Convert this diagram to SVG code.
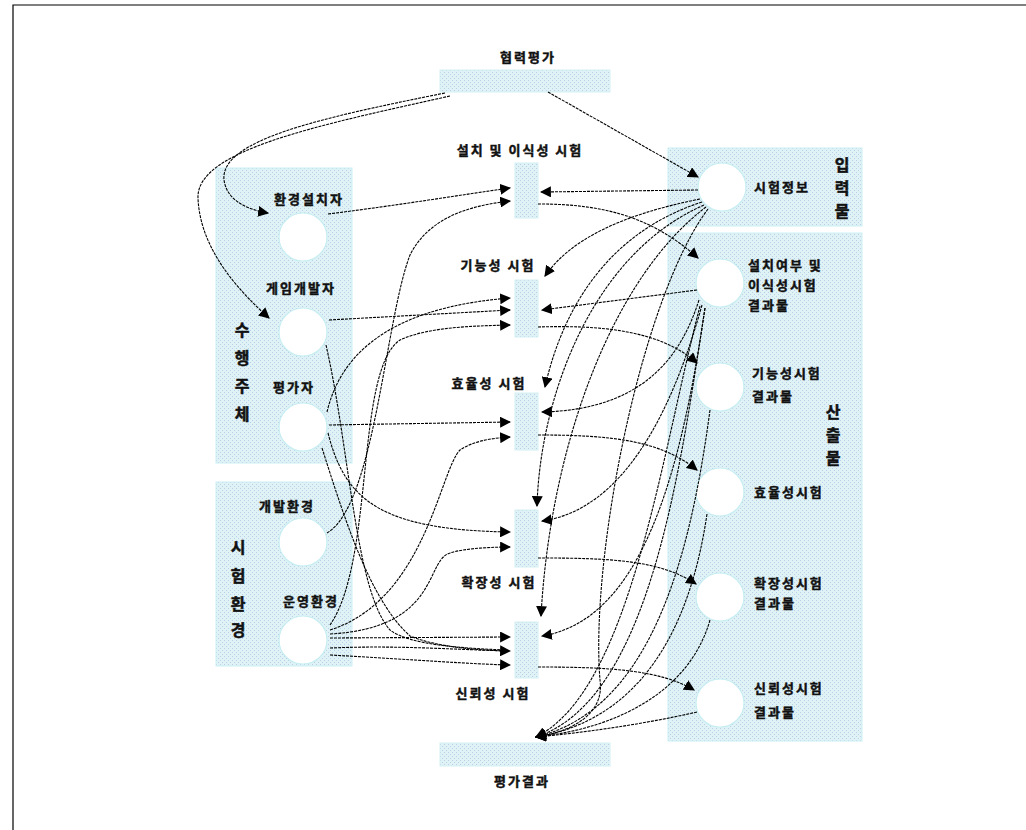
<svg xmlns="http://www.w3.org/2000/svg" width="1026" height="830" viewBox="0 0 1026 830">
<defs>
<pattern id="dots" width="4" height="4" patternUnits="userSpaceOnUse">
<rect width="4" height="4" fill="#dff3f7"/>
<rect x="0" y="0" width="1" height="1" fill="#bccfe6"/>
<rect x="2" y="2" width="1" height="1" fill="#bccfe6"/>
</pattern>
<marker id="ah" viewBox="0 0 10 10" refX="9" refY="5" markerWidth="11" markerHeight="11" orient="auto" markerUnits="userSpaceOnUse">
<path d="M0,0 L10,5 L0,10 z" fill="#000"/>
</marker>
<style>
.panel{fill:url(#dots);stroke:#cdeff3;stroke-width:1}
.bar{fill:url(#dots);stroke:#d4f0f4;stroke-width:1}
.node{fill:#fff;stroke:#c8eef2;stroke-width:1.2}
.t{font-family:"Noto Sans CJK KR","Liberation Sans",sans-serif;font-weight:bold;font-size:13px;letter-spacing:2px;fill:#111;stroke:#111;stroke-width:0.45}
.v{font-family:"Noto Sans CJK KR","Liberation Sans",sans-serif;font-weight:bold;font-size:16px;fill:#111;stroke:#111;stroke-width:0.5;text-anchor:middle}
.m{text-anchor:middle}
.c path{fill:none;stroke:#000;stroke-width:1.1;stroke-dasharray:3 1}
.c .a{marker-end:url(#ah)}
</style>
</defs>
<rect width="1026" height="830" fill="#fff"/>
<path d="M13,830 L13,5 L1026,5" fill="none" stroke="#000" stroke-width="1.2"/>

<!-- panels -->
<g id="panel-actors">
<rect class="panel" x="216" y="168" width="136" height="295"/>
<text class="v" x="242" y="336">수</text>
<text class="v" x="242" y="364">행</text>
<text class="v" x="242" y="392">주</text>
<text class="v" x="242" y="420">체</text>
</g>
<g id="panel-env">
<rect class="panel" x="216" y="482" width="136" height="184"/>
<text class="v" x="238" y="553">시</text>
<text class="v" x="238" y="582">험</text>
<text class="v" x="238" y="610">환</text>
<text class="v" x="238" y="636">경</text>
</g>
<g id="panel-input">
<rect class="panel" x="668" y="148" width="194" height="78"/>
<text class="v" x="842" y="171">입</text>
<text class="v" x="842" y="194">력</text>
<text class="v" x="842" y="217">물</text>
</g>
<g id="panel-output">
<rect class="panel" x="668" y="233" width="194" height="508"/>
<text class="v" x="833" y="418">산</text>
<text class="v" x="833" y="441">출</text>
<text class="v" x="833" y="464">물</text>
</g>

<!-- top / bottom bars -->
<g id="coop-eval">
<rect class="bar" x="440" y="70" width="170" height="22"/>
<text class="t m" x="528" y="62">협력평가</text>
</g>
<g id="eval-result">
<rect class="bar" x="440" y="743" width="170" height="23"/>
<text class="t m" x="522" y="786">평가결과</text>
</g>

<!-- actor nodes -->
<g id="n-installer"><circle class="node" cx="303" cy="237" r="24"/><text class="t m" x="309" y="204">환경설치자</text></g>
<g id="n-gamedev"><circle class="node" cx="303" cy="332" r="24"/><text class="t m" x="301" y="293">게임개발자</text></g>
<g id="n-evaluator"><circle class="node" cx="303" cy="427" r="24"/><text class="t m" x="294" y="392">평가자</text></g>
<g id="n-devenv"><circle class="node" cx="303" cy="542" r="24"/><text class="t m" x="287" y="511">개발환경</text></g>
<g id="n-openv"><circle class="node" cx="303" cy="640" r="24"/><text class="t m" x="311" y="606">운영환경</text></g>

<!-- input / outputs -->
<g id="n-testinfo"><circle class="node" cx="722" cy="187" r="24"/><text class="t" x="754" y="192">시험정보</text></g>
<g id="n-r1"><circle class="node" cx="720" cy="283" r="24"/><text class="t" x="748" y="270">설치여부 및</text><text class="t" x="748" y="290">이식성시험</text><text class="t" x="748" y="310">결과물</text></g>
<g id="n-r2"><circle class="node" cx="720" cy="387" r="24"/><text class="t" x="752" y="378">기능성시험</text><text class="t" x="752" y="401">결과물</text></g>
<g id="n-r3"><circle class="node" cx="720" cy="492" r="24"/><text class="t" x="754" y="497">효율성시험</text></g>
<g id="n-r4"><circle class="node" cx="720" cy="597" r="24"/><text class="t" x="754" y="588">확장성시험</text><text class="t" x="754" y="608">결과물</text></g>
<g id="n-r5"><circle class="node" cx="720" cy="703" r="24"/><text class="t" x="754" y="693">신뢰성시험</text><text class="t" x="754" y="717">결과물</text></g>

<!-- test bars -->
<g id="t-install"><rect class="bar" x="515" y="163" width="23" height="55"/><text class="t m" x="520" y="155">설치 및 이식성 시험</text></g>
<g id="t-func"><rect class="bar" x="515" y="280" width="23" height="57"/><text class="t m" x="498" y="270">기능성 시험</text></g>
<g id="t-eff"><rect class="bar" x="515" y="393" width="23" height="57"/><text class="t m" x="489" y="388">효율성 시험</text></g>
<g id="t-scal"><rect class="bar" x="515" y="510" width="23" height="57"/><text class="t m" x="499" y="587">확장성 시험</text></g>
<g id="t-rel"><rect class="bar" x="515" y="622" width="23" height="56"/><text class="t m" x="493" y="698">신뢰성 시험</text></g>

<g id="connectors" class="c">
<!-- top bar -->
<path class="a" d="M445,93 C 320,118 220,140 224,180 C 227,202 250,210 268,213"/>
<path class="a" d="M450,96 C 320,125 196,150 198,198 C 200,250 240,292 269,318"/>
<path class="a" d="M548,92 L 698,177"/>
<!-- test info -->
<path class="a" d="M698,190 L 541,192"/>
<path class="a" d="M700,199 C 620,215 570,240 545,276"/>
<path class="a" d="M702,202 C 600,235 560,320 545,387"/>
<path class="a" d="M704,205 C 590,255 540,400 537,506"/>
<path class="a" d="M706,207 C 610,280 550,450 541,616"/>
<path class="a" d="M708,209 C 640,300 590,560 600,680 C 605,715 570,732 536,737"/>
<!-- install test to result -->
<path class="a" d="M538,204 C 600,204 650,215 698,258"/>
<!-- result1 to other tests -->
<path class="a" d="M697,290 L 542,310"/>
<path class="a" d="M699,300 C 680,360 640,410 542,412"/>
<path class="a" d="M702,305 C 670,420 620,510 542,521"/>
<path class="a" d="M705,308 C 680,480 640,620 542,636"/>
<!-- tests to results -->
<path class="a" d="M538,327 C 600,325 660,330 697,363"/>
<path class="a" d="M538,435 C 610,435 660,440 697,470"/>
<path class="a" d="M538,558 C 610,558 660,560 696,584"/>
<path class="a" d="M538,667 C 610,667 660,670 694,690"/>
<!-- results to evaluation result -->
<path class="a" d="M700,306 C 660,460 630,690 536,737"/>
<path class="a" d="M705,308 C 680,470 650,700 536,737"/>
<path class="a" d="M710,410 C 690,560 650,710 536,737"/>
<path class="a" d="M707,514 C 690,630 640,720 536,737"/>
<path class="a" d="M710,620 C 690,690 620,728 536,737"/>
<path class="a" d="M697,712 C 640,725 580,733 536,737"/>
<!-- left side to tests -->
<path class="a" d="M328,214 C 400,205 460,195 510,188"/>
<path class="a" d="M327,533 C 375,505 385,320 410,255 C 430,215 475,205 510,201"/>
<path class="a" d="M329,320 L 510,310"/>
<path class="a" d="M327,412 C 345,335 420,305 510,298"/>
<path class="a" d="M330,625 C 375,560 355,370 400,340 C 430,326 480,326 510,325"/>
<path class="a" d="M329,425 L 510,422"/>
<path class="a" d="M330,630 C 425,600 440,470 460,450 C 475,440 495,438 510,437"/>
<path class="a" d="M328,433 C 345,500 380,530 510,532"/>
<path class="a" d="M330,634 C 440,628 425,560 450,553 C 465,548 495,547 510,547"/>
<path class="a" d="M330,638 L 510,637"/>
<path class="a" d="M330,648 C 400,645 460,650 510,651"/>
<path class="a" d="M330,655 C 420,660 470,664 510,665"/>
<path d="M326,345 C 350,450 355,590 390,630 C 410,645 460,648 505,650"/>
<path d="M322,448 C 345,520 370,600 410,636 C 440,648 480,650 505,651"/>
</g>
</svg>
